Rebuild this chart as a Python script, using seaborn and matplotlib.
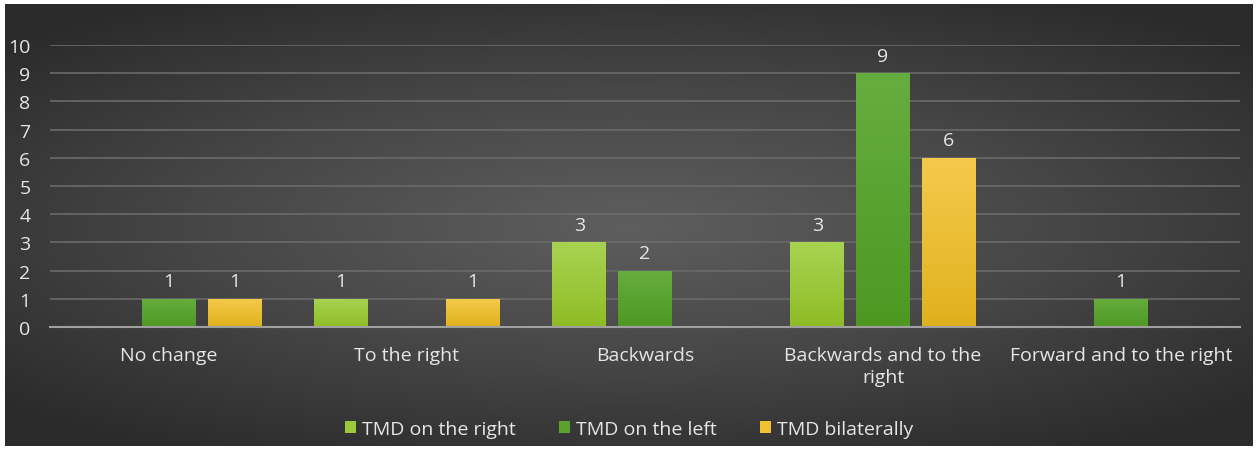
import numpy as np
import pandas as pd
import seaborn as sns
import matplotlib.pyplot as plt
from matplotlib.colors import LinearSegmentedColormap
from matplotlib.patches import Patch

# Data
categories = ["No change", "To the right", "Backwards", "Backwards and to the\nright", "Forward and to the right"]
groups = ["TMD on the right", "TMD on the left", "TMD bilaterally"]
tmd_right = [0, 1, 3, 3, 0]
tmd_left = [1, 0, 2, 9, 1]
tmd_bilateral = [1, 1, 0, 6, 0]

colors = ["#9cc93c", "#5aa22e", "#f0c131"]
tops = ["#a8d352", "#66ad3f", "#f5ca4c"]
bottoms = ["#8fbc26", "#4e9822", "#e0b11e"]

rows = []
for i, c in enumerate(categories):
    rows.append((c, groups[0], tmd_right[i]))
    rows.append((c, groups[1], tmd_left[i]))
    rows.append((c, groups[2], tmd_bilateral[i]))
df = pd.DataFrame(rows, columns=["category", "group", "count"])

sns.set_theme(style="dark")
plt.rcParams['font.family'] = ['Open Sans', 'DejaVu Sans']
txt = "#e6e6e6"
fs = 14

fig = plt.figure(figsize=(12.58, 4.52), dpi=100, facecolor="white")

# background radial gradient
bg = fig.add_axes([5 / 1258, 5 / 452, 1248 / 1258, 442 / 452])
yy, xx = np.mgrid[-1:1:300j, -1:1:800j]
r = np.sqrt(xx ** 2 + (yy / 0.9) ** 2)
bgcmap = LinearSegmentedColormap.from_list("bg", ["#5e5e5e", "#474747", "#2b2b2b"])
bg.imshow(r, cmap=bgcmap, vmin=0, vmax=1.35, aspect="auto", extent=[0, 1, 0, 1])
bg.set_axis_off()

ax = fig.add_axes([50 / 1258, 124 / 452, 1190 / 1258, 282 / 452])
ax.patch.set_alpha(0)
sns.barplot(data=df, x="category", y="count", hue="group",
            palette=colors, width=0.83, gap=0.18, ax=ax, legend=False,
            edgecolor="none")

ax.grid(axis="y", color="#6a6a6a", linewidth=1.2)
ax.grid(axis="x", visible=False)
ax.set_axisbelow(True)
for s in ["top", "right", "left"]:
    ax.spines[s].set_visible(False)
ax.spines["bottom"].set_color("#a0a0a0")
ax.spines["bottom"].set_linewidth(1.5)
ax.tick_params(axis="both", colors=txt, labelsize=fs, length=0)
ax.tick_params(axis="y", pad=14)
ax.tick_params(axis="x", pad=14)
for lab in ax.get_xticklabels():
    lab.set_linespacing(1.25)
ax.set_xlabel("")
ax.set_ylabel("")

# gradient fill on bars + value labels
grad = np.linspace(0, 1, 100).reshape(-1, 1)
for k, cont in enumerate(ax.containers):
    cmap = LinearSegmentedColormap.from_list("b%d" % k, [tops[k], bottoms[k]])
    for bar in cont:
        h = bar.get_height()
        if h <= 0:
            bar.set_visible(False)
            continue
        x0 = bar.get_x()
        w = bar.get_width()
        im = ax.imshow(grad, cmap=cmap, aspect="auto", extent=[x0, x0 + w, 0, h],
                       zorder=bar.get_zorder() + 0.1, origin="upper")
        im.set_clip_path(bar)
        ax.text(x0 + w / 2, h + 0.3, f"{int(h)}", ha="center", va="bottom",
                color=txt, fontsize=fs)

ax.set_xlim(-0.5, len(categories) - 0.5)
ax.set_ylim(0, 10)
ax.set_yticks(range(0, 11))

# legend
handles = [Patch(facecolor=c, edgecolor="none") for c in colors]
fig.legend(handles, groups, loc="center", bbox_to_anchor=(0.5, 22 / 452), ncol=3,
           frameon=False, fontsize=fs, labelcolor=txt, handlelength=0.6,
           handleheight=0.6, handletextpad=0.3, columnspacing=2.2)

fig.savefig("out.png", dpi=100, facecolor="white")
